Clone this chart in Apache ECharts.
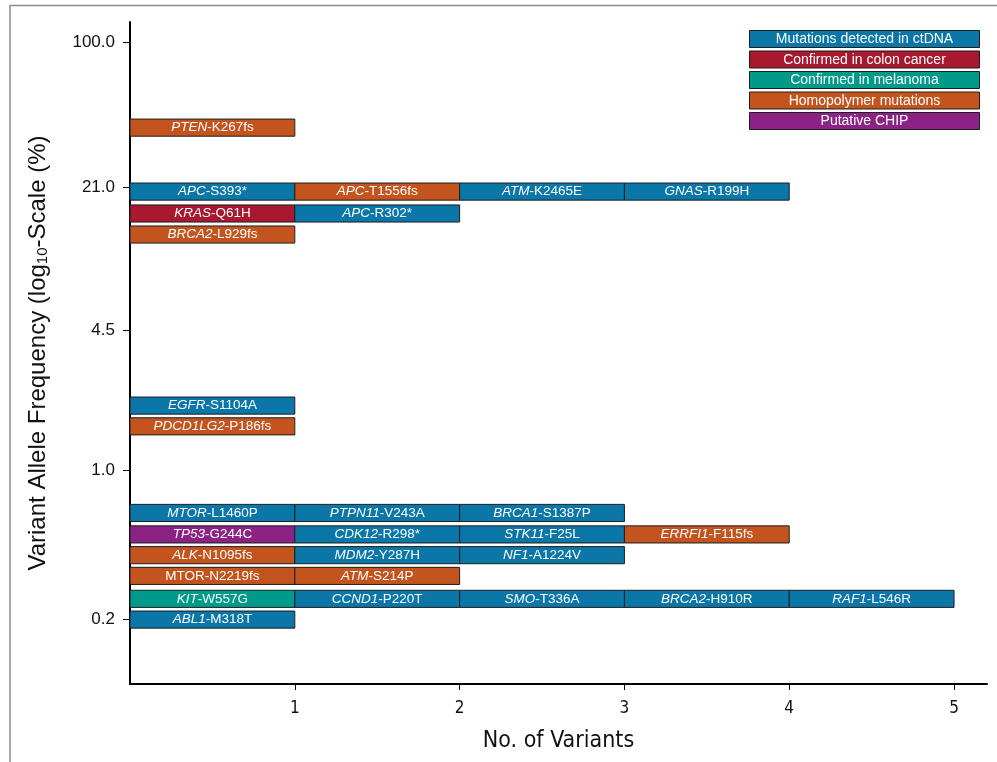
<!DOCTYPE html>
<html>
<head>
<meta charset="utf-8">
<script src="https://cdn.jsdelivr.net/npm/echarts@6/dist/echarts.min.js"></script>
<style>
  html, body { margin: 0; padding: 0; background: #ffffff; }
  #chart { width: 997px; height: 762px; }
</style>
</head>
<body>
<div id="chart"></div>
<script>
// Variant categories and their fill colours
const categoryNames = [
  'Mutations detected in ctDNA',
  'Confirmed in colon cancer',
  'Confirmed in melanoma',
  'Homopolymer mutations',
  'Putative CHIP'
];
const categoryColors = ['#0a77a8', '#a8182f', '#009a8b', '#c4541e', '#8c2283'];

// One entry per detected variant (gene, protein change, VAF %, category index)
const variantGene = [
  'PTEN',
  'APC', 'APC', 'ATM', 'GNAS',
  'KRAS', 'APC',
  'BRCA2',
  'EGFR',
  'PDCD1LG2',
  'MTOR', 'PTPN11', 'BRCA1',
  'TP53', 'CDK12', 'STK11', 'ERRFI1',
  'ALK', 'MDM2', 'NF1',
  'MTOR', 'ATM',
  'KIT', 'CCND1', 'SMO', 'BRCA2', 'RAF1',
  'ABL1'
];
const variantChange = [
  'K267fs',
  'S393*', 'T1556fs', 'K2465E', 'R199H',
  'Q61H', 'R302*',
  'L929fs',
  'S1104A',
  'P186fs',
  'L1460P', 'V243A', 'S1387P',
  'G244C', 'R298*', 'F25L', 'F115fs',
  'N1095fs', 'Y287H', 'A1224V',
  'N2219fs', 'S214P',
  'W557G', 'P220T', 'T336A', 'H910R', 'L546R',
  'M318T'
];
const variantVAF = [
  39.8,
  20.0, 20.0, 20.0, 20.0,
  15.8, 15.8,
  12.6,
  2.0,
  1.6,
  0.63, 0.63, 0.63,
  0.50, 0.50, 0.50, 0.50,
  0.40, 0.40, 0.40,
  0.32, 0.32,
  0.25, 0.25, 0.25, 0.25, 0.25,
  0.20
];
const variantCategory = [
  3,
  0, 3, 0, 0,
  1, 0,
  3,
  0,
  3,
  0, 0, 0,
  4, 0, 0, 3,
  3, 0, 0,
  3, 3,
  2, 0, 0, 0, 0,
  0
];
// Gene symbols are set in italics, except where the label is written plainly
const variantItalic = [
  true,
  true, true, true, true,
  true, true,
  true,
  true,
  true,
  true, true, true,
  true, true, true, true,
  true, true, true,
  false, true,
  true, true, true, true, true,
  true
];

// Axis tick values
const yTickValues = [100.0, 21.0, 4.5, 1.0, 0.2];
const xTickValues = [1, 2, 3, 4, 5];

const FONT = '"Liberation Sans", Arial, Helvetica, sans-serif';
const NARROW = '"Liberation Sans Narrow", "DejaVu Sans Condensed", "Roboto Condensed", "Liberation Sans", Arial, sans-serif';
const BAR_THICKNESS = 0.08; // in log10 units of the VAF axis
const CELL_FONT = 13.5;

// Stack the variants sharing a VAF bin side by side: each one adds 1 to the count
const slotCount = {};
const cells = variantGene.map((gene, i) => {
  const key = variantVAF[i];
  const slot = slotCount[key] || 0;
  slotCount[key] = slot + 1;
  return {
    value: [slot, slot + 1, Math.log10(variantVAF[i])],
    gene: gene,
    change: variantChange[i],
    cat: variantCategory[i],
    italic: variantItalic[i]
  };
});

const chart = echarts.init(document.getElementById('chart'), null, { renderer: 'canvas' });

// Legend: coloured boxes with the category name written inside
const LEGEND_W = 230, LEGEND_H = 17, LEGEND_STEP = 20.5;
const legendGroup = {
  type: 'group',
  right: 17,
  top: 30,
  z: 10,
  children: categoryNames.flatMap((name, i) => [
    {
      type: 'rect',
      shape: { x: 0, y: i * LEGEND_STEP, width: LEGEND_W, height: LEGEND_H },
      style: { fill: categoryColors[i], stroke: '#1e1e1e', lineWidth: 1 }
    },
    {
      type: 'text',
      x: LEGEND_W / 2,
      y: i * LEGEND_STEP + LEGEND_H / 2 + 0.5,
      style: {
        text: name,
        fill: '#ffffff',
        fontSize: 14,
        fontFamily: FONT,
        textAlign: 'center',
        textVerticalAlign: 'middle'
      }
    }
  ])
};

const option = {
  backgroundColor: '#ffffff',
  animation: false,
  grid: { left: 130, right: 10, top: 22, bottom: 78, containLabel: false },
  xAxis: {
    type: 'value',
    min: 0,
    max: 5.2,
    name: 'No. of Variants',
    nameLocation: 'middle',
    nameGap: 46,
    nameTextStyle: { fontSize: 23, color: '#111', fontFamily: NARROW },
    axisLine: { show: true, onZero: false, lineStyle: { color: '#000', width: 2 } },
    axisTick: { show: true, length: 6, customValues: xTickValues, lineStyle: { color: '#000', width: 1 } },
    axisLabel: {
      customValues: xTickValues,
      margin: 16,
      fontSize: 17,
      color: '#111',
      fontFamily: NARROW
    },
    splitLine: { show: false }
  },
  yAxis: {
    type: 'value',
    min: -1,
    max: 2.0935,
    name: 'Variant Allele Frequency (log{sub|10}-Scale (%)',
    nameLocation: 'middle',
    nameRotate: 90,
    nameGap: 80,
    nameTextStyle: {
      fontSize: 24,
      color: '#111',
      fontFamily: FONT,
      rich: {
        sub: { fontSize: 15, color: '#111', fontFamily: FONT, verticalAlign: 'bottom' }
      }
    },
    axisLine: { show: true, onZero: false, lineStyle: { color: '#000', width: 2 } },
    axisTick: {
      show: true,
      inside: false,
      length: 7,
      customValues: yTickValues.map(v => Math.log10(v)),
      lineStyle: { color: '#000', width: 1 }
    },
    axisLabel: {
      customValues: yTickValues.map(v => Math.log10(v)),
      formatter: v => Math.pow(10, v).toFixed(1),
      margin: 15,
      fontSize: 17,
      color: '#111',
      fontFamily: FONT
    },
    splitLine: { show: false }
  },
  graphic: [
    {
      type: 'polyline',
      shape: { points: [[10, 762], [10, 5.5], [997, 5.5]] },
      style: { stroke: '#8a8a8a', lineWidth: 1.5, fill: null },
      silent: true
    },
    legendGroup
  ],
  series: [
    {
      type: 'custom',
      encode: { x: [0, 1], y: 2 },
      data: cells.map(c => c.value),
      clip: false,
      renderItem: (params, api) => {
        const c = cells[params.dataIndex];
        const p0 = api.coord([api.value(0), api.value(2)]);
        const p1 = api.coord([api.value(1), api.value(2)]);
        const h = api.size([0, BAR_THICKNESS])[1];
        const text = c.italic
          ? '{i|' + c.gene + '}{n|-' + c.change + '}'
          : '{n|' + c.gene + '-' + c.change + '}';
        return {
          type: 'rect',
          shape: { x: p0[0], y: p0[1] - h / 2, width: p1[0] - p0[0], height: h },
          style: { fill: categoryColors[c.cat], stroke: '#1e1e1e', lineWidth: 1 },
          textContent: {
            style: {
              text: text,
              fill: '#ffffff',
              fontSize: CELL_FONT,
              fontFamily: FONT,
              rich: {
                i: { fontStyle: 'italic', fill: '#ffffff', fontSize: CELL_FONT, fontFamily: FONT },
                n: { fill: '#ffffff', fontSize: CELL_FONT, fontFamily: FONT }
              }
            }
          },
          textConfig: { position: 'inside' }
        };
      }
    }
  ]
};

chart.setOption(option);
</script>
</body>
</html>
